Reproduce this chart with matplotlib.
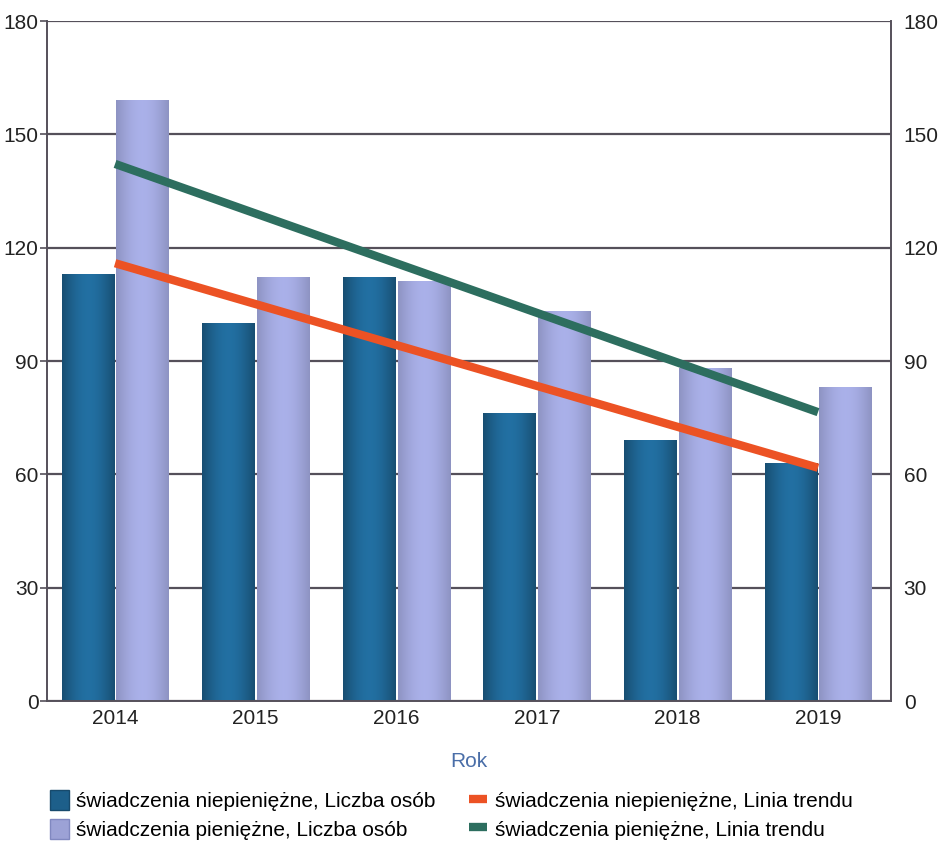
import numpy as np
import matplotlib
matplotlib.use("Agg")
import matplotlib.pyplot as plt
from matplotlib.patches import Patch
from matplotlib.lines import Line2D

plt.rcParams['font.family'] = ['Liberation Sans', 'DejaVu Sans']

years = ["2014", "2015", "2016", "2017", "2018", "2019"]
niepieniezne = [113, 100, 112, 76, 69, 63]
pieniezne = [159, 112, 111, 103, 88, 83]

labels = ["świadczenia niepieniężne, Liczba osób",
          "świadczenia pieniężne, Liczba osób",
          "świadczenia niepieniężne, Linia trendu",
          "świadczenia pieniężne, Linia trendu"]

c_dark = "#1d5f8a"
c_light = "#9ca2d6"
c_red = "#ec5224"
c_green = "#2d6e5f"
c_grid = "#55505a"

fig = plt.figure(figsize=(9.46, 8.43), dpi=100)
ax = fig.add_axes([0.0497, 0.1684, 0.8923, 0.8066])

x = np.arange(len(years))
w = 0.37

ax.set_yticks(np.arange(0, 181, 30))
ax.yaxis.grid(True, color=c_grid, linewidth=1.6)
ax.set_axisbelow(True)

b1 = ax.bar(x - w / 2 - 0.01, niepieniezne, width=w, color=c_dark, edgecolor="#174a6c", linewidth=0.6, zorder=2)
b2 = ax.bar(x + w / 2 + 0.01, pieniezne, width=w, color=c_light, edgecolor="#8088c0", linewidth=0.6, zorder=2)

# subtle cylinder-like gradient on bars
grad = np.linspace(0, 1, 64)
for bars, base, amp in ((b1, c_dark, 0.35), (b2, c_light, 0.18)):
    rgb = np.array(matplotlib.colors.to_rgb(base))
    img = np.clip(rgb[None, None, :] * ((1 - amp / 2) + amp * np.sin(np.pi * grad))[None, :, None], 0, 1)
    for r in bars:
        x0, y0 = r.get_x(), r.get_y()
        ax.imshow(img, extent=(x0, x0 + r.get_width(), y0, y0 + r.get_height()),
                  aspect="auto", zorder=2.1, clip_path=r, clip_on=True)

# linear trend lines computed from the data
p1 = np.polyfit(x, niepieniezne, 1)
p2 = np.polyfit(x, pieniezne, 1)
ax.plot(x, np.polyval(p1, x), color=c_red, linewidth=6, solid_capstyle="butt", zorder=3)
ax.plot(x, np.polyval(p2, x), color=c_green, linewidth=6, solid_capstyle="butt", zorder=3)
ax.set_xlim(-0.484, 5.52)
ax.set_ylim(0, 180)

ax.set_xticks(x)
ax.set_xticklabels(years, fontsize=15, color="#222222")
ax.tick_params(axis="x", length=0, pad=6)
ax.tick_params(axis="y", length=5, width=1.2, color=c_grid, labelsize=15, labelcolor="#222222", pad=1)

for s in ("left", "right", "bottom"):
    ax.spines[s].set_color(c_grid)
    ax.spines[s].set_linewidth(1.4)
ax.spines["top"].set_visible(False)

ax2 = ax.twinx()
ax2.set_ylim(0, 180)
ax2.set_yticks(np.arange(0, 181, 30))
ax2.tick_params(axis="y", length=0, labelsize=15, labelcolor="#222222", pad=9)
for s in ("left", "right", "bottom", "top"):
    ax2.spines[s].set_visible(False)

ax.set_xlabel("Rok", fontsize=15, color="#4a6ea8", labelpad=17)

handles = [Patch(facecolor=c_dark, edgecolor="#174a6c"),
           Patch(facecolor=c_light, edgecolor="#8088c0"),
           Line2D([], [], color=c_red, linewidth=6, solid_capstyle="butt"),
           Line2D([], [], color=c_green, linewidth=6, solid_capstyle="butt")]
fig.legend(handles, labels, loc="lower left", bbox_to_anchor=(0.044, -0.006), ncol=2,
           frameon=False, fontsize=15, handlelength=0.9, handleheight=1.1,
           handletextpad=0.35, columnspacing=1.6, labelspacing=0.35,
           borderaxespad=0.0)

fig.savefig("out.png", dpi=100)
